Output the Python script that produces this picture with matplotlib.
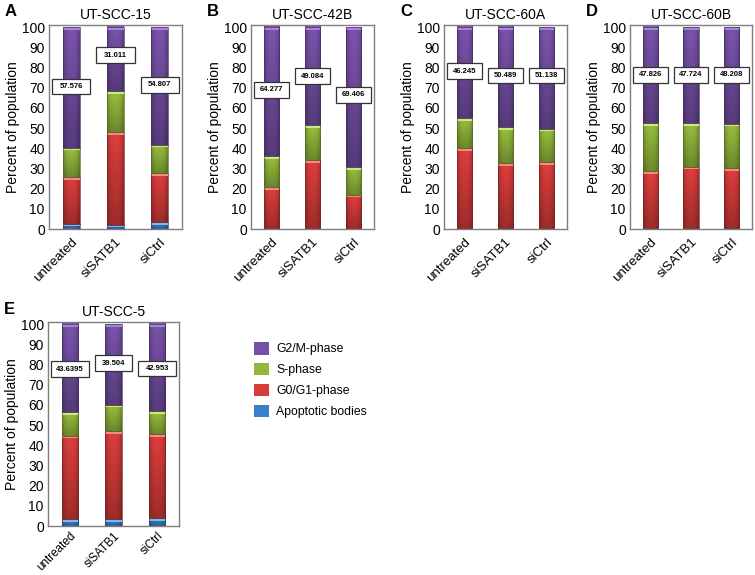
import numpy as np
import matplotlib.pyplot as plt
from matplotlib.patches import Rectangle, Patch
from matplotlib.colors import to_rgb

plt.rcParams['font.family'] = ['Liberation Sans', 'DejaVu Sans']

conditions = ['untreated', 'siSATB1', 'siCtrl']
panel_letters = ['A', 'B', 'C', 'D', 'E']
cell_lines = ['UT-SCC-15', 'UT-SCC-42B', 'UT-SCC-60A', 'UT-SCC-60B', 'UT-SCC-5']

# percent of population per phase (rows = panels, cols = conditions)
apoptotic = [[2.5, 2.0, 3.3], [0.2, 0.2, 0.2], [0.5, 0.5, 0.5], [0.5, 0.5, 0.5], [3.3, 3.3, 4.0]]
g0g1 = [[23.1, 46.0, 24.4], [20.4, 33.8, 16.8], [39.4, 32.1, 32.6], [28.1, 30.4, 29.6], [41.5, 43.7, 41.6]]
s_phase = [[14.7, 20.1, 14.0], [15.3, 17.3, 13.7], [14.9, 17.7, 16.6], [23.7, 21.6, 22.1], [11.5, 13.1, 11.2]]
g2m = [[59.7, 31.9, 58.3], [64.1, 48.7, 69.3], [45.2, 49.7, 50.3], [47.7, 47.5, 47.8], [43.7, 39.9, 43.2]]
g2m_labels = [['57.576', '31.011', '54.807'], ['64.277', '49.084', '69.406'],
              ['46.245', '50.489', '51.138'], ['47.826', '47.724', '48.208'],
              ['43.6395', '39.504', '42.953']]
label_y = [[70.6, 86.0, 71.4], [69.0, 75.6, 66.4], [78.2, 76.0, 76.0], [76.4, 76.4, 76.4], [77.6, 80.7, 78.0]]

phase_names = ['Apoptotic bodies', 'G0/G1-phase', 'S-phase', 'G2/M-phase']
phase_colors = ['#3b7fcc', '#d63c3a', '#93b93c', '#7650a6']
phase_tops = ['#7fb6ee', '#f28a87', '#cfe97a', '#a883d6']

# axes boxes in pixels: left, right, top, bottom
boxes = [(49, 182, 25, 229), (251, 374, 25, 229), (444, 567, 25, 229),
         (630, 752, 25, 229), (48, 179, 322, 526)]
W, H = 755, 575


def shaded_segment(ax, x, bottom, height, color, top_color, width=0.38):
    if height <= 0:
        return
    base = np.array(to_rgb(color))
    ny, nx = 40, 20
    yy = np.linspace(1, 0, ny)[:, None]
    xx = np.linspace(-1, 1, nx)[None, :]
    factor = (0.74 + 0.3 * yy) * (1 - 0.25 * np.abs(xx) ** 3)
    img = np.clip(base[None, None, :] * factor[:, :, None], 0, 1)
    ax.imshow(img, extent=(x - width / 2, x + width / 2, bottom, bottom + height),
              aspect='auto', interpolation='bilinear', zorder=1)
    cap = min(1.3, height * 0.4)
    ax.bar(x, cap, bottom=bottom + height - cap, width=width, color=top_color,
           linewidth=0, zorder=2)
    ax.bar(x, height, bottom=bottom, width=width, facecolor='none',
           edgecolor=np.clip(base * 0.6, 0, 1), linewidth=0.5, zorder=2)


fig = plt.figure(figsize=(W / 100, H / 100), dpi=100)

for p in range(5):
    l, r, t, b = boxes[p]
    ax = fig.add_axes([l / W, 1 - b / H, (r - l) / W, (b - t) / H])
    series = [apoptotic[p], g0g1[p], s_phase[p], g2m[p]]
    for i in range(3):
        bottom = 0
        for k in range(4):
            shaded_segment(ax, i, bottom, series[k][i], phase_colors[k], phase_tops[k])
            bottom += series[k][i]
        ax.add_patch(Rectangle((i - 0.43, label_y[p][i] - 3.9), 0.86, 7.8,
                               facecolor='white', edgecolor='#333333', linewidth=0.9, zorder=4))
        ax.text(i, label_y[p][i], g2m_labels[p][i], ha='center', va='center',
                fontsize=5.5, fontweight='bold', zorder=5)
    ax.set_xlim(-0.5, 2.5)
    ax.set_ylim(0, 101)
    ax.set_yticks(range(0, 101, 10))
    ax.set_xticks(range(3))
    # bottom row sits close to the figure edge, so its labels are a bit smaller
    xfs = 8.4 if p == 4 else 9.5
    ax.set_xticklabels(conditions, rotation=45, ha='right', rotation_mode='anchor',
                       fontsize=xfs)
    ax.tick_params(axis='y', length=0, labelsize=10, pad=3)
    ax.tick_params(axis='x', length=0, pad=3 if p == 4 else 5)
    for sp in ax.spines.values():
        sp.set_color('#7f7f7f')
        sp.set_linewidth(1.0)
    ax.set_ylabel('Percent of population', fontsize=10, labelpad=1)
    ax.set_title(cell_lines[p], fontsize=10, pad=4)
    fig.text((l - 44) / W, 1 - (t - 13) / H, panel_letters[p], fontsize=12,
             fontweight='bold', ha='left', va='center')

handles = [Patch(facecolor=phase_colors[k], edgecolor='none') for k in [3, 2, 1, 0]]
labels = [phase_names[k] for k in [3, 2, 1, 0]]
fig.legend(handles, labels, loc='upper left', bbox_to_anchor=(243 / W, 1 - 331 / H),
           frameon=False, fontsize=8.8, handlelength=1.2, handleheight=1.2,
           handletextpad=0.6, labelspacing=0.62)

fig.savefig('out.png', dpi=100)
